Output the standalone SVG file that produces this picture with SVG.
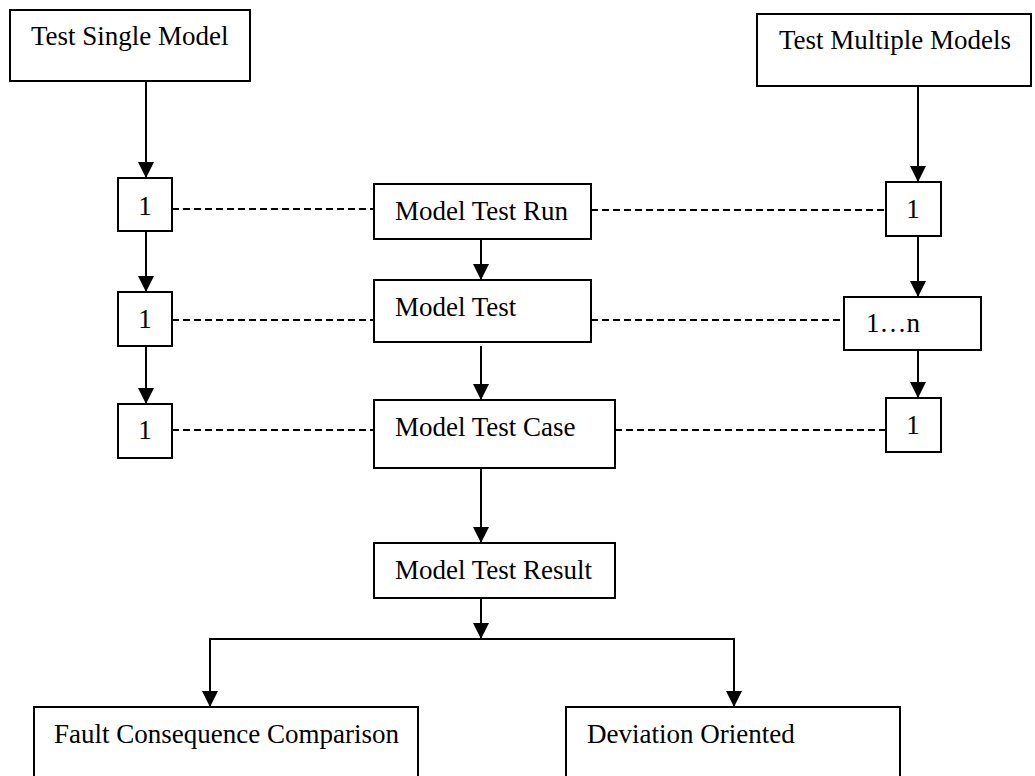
<svg xmlns="http://www.w3.org/2000/svg" width="1035" height="776" viewBox="0 0 1035 776">
  <style>
    .box { fill: #ffffff; stroke: #000000; stroke-width: 2; }
    .lbl { font-family: "Liberation Serif", "Times New Roman", serif; font-size: 27px; fill: #000000; }
    .num { text-anchor: middle; }
    .flow { fill: none; stroke: #000000; stroke-width: 2; }
    .link { fill: none; stroke: #000000; stroke-width: 2; stroke-dasharray: 7 4; }
  </style>
  <defs>
    <marker id="arrow" viewBox="0 0 16 16" refX="16" refY="8" markerWidth="16" markerHeight="16" markerUnits="userSpaceOnUse" orient="auto">
      <path d="M0,0 L16,8 L0,16 Z" fill="#000000"/>
    </marker>
  </defs>
  <rect width="1035" height="776" fill="#ffffff"/>

  <g id="connectors">
    <!-- single model column -->
    <line class="flow" x1="146" y1="81" x2="146" y2="178" marker-end="url(#arrow)"/>
    <line class="flow" x1="146" y1="231" x2="146" y2="292" marker-end="url(#arrow)"/>
    <line class="flow" x1="146" y1="346" x2="146" y2="404" marker-end="url(#arrow)"/>
    <!-- multiple models column -->
    <line class="flow" x1="918" y1="86" x2="918" y2="182" marker-end="url(#arrow)"/>
    <line class="flow" x1="918" y1="236" x2="918" y2="297" marker-end="url(#arrow)"/>
    <line class="flow" x1="918" y1="350" x2="918" y2="398" marker-end="url(#arrow)"/>
    <!-- central chain -->
    <line class="flow" x1="481" y1="239" x2="481" y2="280" marker-end="url(#arrow)"/>
    <line class="flow" x1="481" y1="346" x2="481" y2="400" marker-end="url(#arrow)"/>
    <line class="flow" x1="481" y1="468" x2="481" y2="543" marker-end="url(#arrow)"/>
    <line class="flow" x1="481" y1="592" x2="481" y2="639" marker-end="url(#arrow)"/>
    <!-- result branches -->
    <line class="flow" x1="210" y1="639" x2="735" y2="639"/>
    <line class="flow" x1="210" y1="638" x2="210" y2="707" marker-end="url(#arrow)"/>
    <line class="flow" x1="734" y1="638" x2="734" y2="707" marker-end="url(#arrow)"/>
    <!-- cardinality links -->
    <line class="link" x1="172" y1="209" x2="374" y2="209"/>
    <line class="link" x1="172" y1="320" x2="374" y2="320"/>
    <line class="link" x1="172" y1="430" x2="374" y2="430"/>
    <line class="link" x1="591" y1="210" x2="886" y2="210"/>
    <line class="link" x1="591" y1="320" x2="844" y2="320"/>
    <line class="link" x1="615" y1="430" x2="886" y2="430"/>
  </g>

  <g id="test-single-model">
    <rect class="box" x="10" y="10" width="240" height="71"/>
    <text class="lbl" x="31" y="45">Test Single Model</text>
  </g>
  <g id="test-multiple-models">
    <rect class="box" x="757" y="14" width="274" height="72"/>
    <text class="lbl" x="779" y="49">Test Multiple Models</text>
  </g>

  <g id="single-run">
    <rect class="box" x="118" y="178" width="54" height="53"/>
    <text class="lbl num" x="145" y="215">1</text>
  </g>
  <g id="single-test">
    <rect class="box" x="118" y="292" width="54" height="54"/>
    <text class="lbl num" x="145" y="328">1</text>
  </g>
  <g id="single-case">
    <rect class="box" x="118" y="404" width="54" height="54"/>
    <text class="lbl num" x="145" y="439">1</text>
  </g>

  <g id="multi-run">
    <rect class="box" x="886" y="182" width="55" height="54"/>
    <text class="lbl num" x="913" y="218">1</text>
  </g>
  <g id="multi-test">
    <rect class="box" x="844" y="297" width="137" height="53"/>
    <text class="lbl" x="866" y="332">1…n</text>
  </g>
  <g id="multi-case">
    <rect class="box" x="886" y="398" width="55" height="54"/>
    <text class="lbl num" x="913" y="434">1</text>
  </g>

  <g id="model-test-run">
    <rect class="box" x="374" y="184" width="217" height="55"/>
    <text class="lbl" x="395" y="220">Model Test Run</text>
  </g>
  <g id="model-test">
    <rect class="box" x="374" y="280" width="217" height="62"/>
    <text class="lbl" x="395" y="316">Model Test</text>
  </g>
  <g id="model-test-case">
    <rect class="box" x="374" y="400" width="241" height="68"/>
    <text class="lbl" x="395" y="436">Model Test Case</text>
  </g>
  <g id="model-test-result">
    <rect class="box" x="374" y="543" width="241" height="55"/>
    <text class="lbl" x="395" y="579">Model Test Result</text>
  </g>

  <g id="fault-consequence-comparison">
    <rect class="box" x="34" y="707" width="384" height="90"/>
    <text class="lbl" x="54" y="743">Fault Consequence Comparison</text>
  </g>
  <g id="deviation-oriented">
    <rect class="box" x="566" y="707" width="334" height="90"/>
    <text class="lbl" x="587" y="743">Deviation Oriented</text>
  </g>
</svg>
